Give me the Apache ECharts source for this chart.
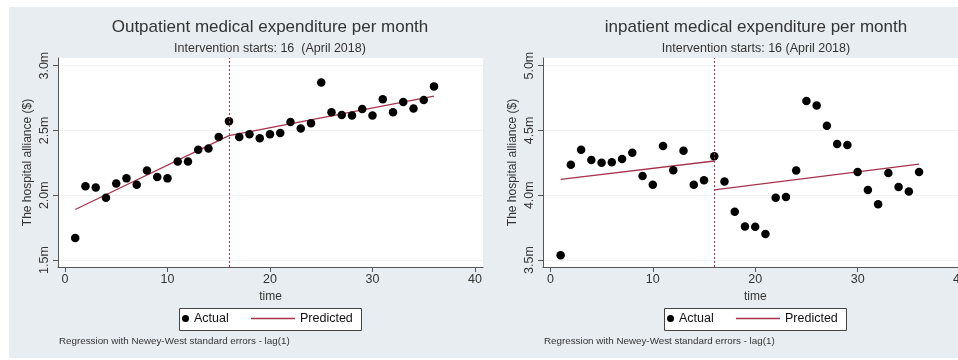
<!DOCTYPE html>
<html>
<head>
<meta charset="utf-8">
<script src="https://cdn.jsdelivr.net/npm/echarts@6/dist/echarts.min.js"></script>
<style>
html,body{margin:0;padding:0;background:#fff;overflow:hidden;width:958px;height:360px;}
#chart{width:970px;height:360px;}
</style>
</head>
<body>
<div id="chart"></div>
<script>
// ---- data (values in millions of $) ----
const time = [1,2,3,4,5,6,7,8,9,10,11,12,13,14,15,16,17,18,19,20,21,22,23,24,25,26,27,28,29,30,31,32,33,34,35,36];
const outpatientActual = [1.67,2.07,2.06,1.98,2.09,2.13,2.08,2.19,2.14,2.13,2.26,2.26,2.35,2.36,2.45,2.57,2.45,2.47,2.44,2.47,2.48,2.565,2.515,2.555,2.87,2.64,2.62,2.615,2.665,2.615,2.74,2.64,2.72,2.67,2.735,2.84];
const inpatientActual = [3.536,4.235,4.35,4.272,4.25,4.254,4.28,4.328,4.148,4.08,4.38,4.192,4.344,4.08,4.115,4.30,4.105,3.872,3.759,3.756,3.70,3.98,3.987,4.19,4.728,4.692,4.536,4.395,4.388,4.18,4.04,3.93,4.172,4.064,4.028,4.18];
const predPreTime = [1,16];
const predPostTime = [16,36];
const outPredPre = [1.89,2.46];
const outPredPost = [2.46,2.765];
const inPredPre = [4.123,4.264];
const inPredPost = [4.041,4.24];
const interventionTime = 16;
const xTicks = [0,10,20,30,40];
const outTicks = [1.5,2.0,2.5,3.0];
const inTicks = [3.5,4.0,4.5,5.0];
const titles = ['Outpatient medical expenditure per month','inpatient medical expenditure per month'];
const subtitles = ['Intervention starts: 16  (April 2018)','Intervention starts: 16 (April 2018)'];
const yTitle = 'The hospital alliance ($)';
const xTitle = 'time';
const note = 'Regression with Newey-West standard errors - lag(1)';

const FONT = '"Liberation Sans", Arial, sans-serif';
const TXT = '#333';
const LINE = '#A8324E';

function pairs(xs, ys){ return xs.map((x,i)=>[x, ys[i]]); }

function xAxisCfg(gi, min, max){
  return {
    type:'value', gridIndex:gi, min:min, max:max,
    name:xTitle, nameLocation:'middle', nameGap:19,
    nameTextStyle:{color:TXT, fontSize:12, fontFamily:FONT},
    axisLine:{show:true, onZero:false, lineStyle:{color:'#555', width:1}},
    axisTick:{show:true, inside:false, length:5, customValues:xTicks, lineStyle:{color:'#555'}},
    axisLabel:{customValues:xTicks, color:TXT, fontSize:12.5, fontFamily:FONT, margin:6},
    splitLine:{show:false}
  };
}
function yAxisCfg(gi, min, max, ticks){
  return {
    type:'value', gridIndex:gi, min:min, max:max,
    name:yTitle, nameLocation:'middle', nameGap:24, nameRotate:90,
    nameTextStyle:{color:TXT, fontSize:12, fontFamily:FONT},
    axisLine:{show:true, onZero:false, lineStyle:{color:'#555', width:1}},
    axisTick:{show:true, inside:false, length:5, customValues:ticks, lineStyle:{color:'#555'}},
    axisLabel:{customValues:ticks, rotate:90, color:TXT, fontSize:12.5, fontFamily:FONT, margin:7,
      formatter:v=>v.toFixed(1)+'m'},
    splitLine:{show:true, lineStyle:{color:'#EEF2F4', width:1}}
  };
}

const chart = echarts.init(document.getElementById('chart'), null, {renderer:'canvas'});
const gridLefts = [58, 543];
const titleCenters = [270, 756];
const legendLefts = [179, 664];

const titleArr = [];
for (let i=0;i<2;i++){
  titleArr.push({text:titles[i], left:titleCenters[i], top:19, textAlign:'center', padding:0,
    textStyle:{color:TXT, fontSize:17, fontWeight:'normal', fontFamily:FONT}});
  titleArr.push({text:subtitles[i], left:titleCenters[i], top:42, textAlign:'center', padding:0,
    textStyle:{color:TXT, fontSize:12.5, fontWeight:'normal', fontFamily:FONT}});
  titleArr.push({text:note, left:gridLefts[i]+1, top:336, padding:0,
    textStyle:{color:TXT, fontSize:9.8, fontWeight:'normal', fontFamily:FONT}});
}

const legendArr = [];
const graphicArr = [{type:'rect', z:-10, shape:{x:9,y:7,width:961,height:351}, style:{fill:'#E7EDF1'}}];
for (let i=0;i<2;i++){
  const L = legendLefts[i];
  graphicArr.push({type:'rect', z:3, shape:{x:L+0.5,y:308.5,width:182,height:22}, style:{fill:'#fff', stroke:'#444', lineWidth:1}});
  legendArr.push({data:['Actual'], left:L+3, top:312, padding:0, itemWidth:7, itemHeight:7, icon:'circle',
    itemStyle:{color:'#000', opacity:1},
    textStyle:{color:'#111', fontSize:12.5, fontFamily:FONT}});
  legendArr.push({data:['Predicted'], left:L+72, top:312, padding:0, itemWidth:44, itemHeight:1.5, icon:'rect',
    itemStyle:{color:LINE},
    textStyle:{color:'#111', fontSize:12.5, fontFamily:FONT}});
}

function panelSeries(gi, actual, pre, post){
  return [
    {name:'Actual', type:'scatter', xAxisIndex:gi, yAxisIndex:gi, data:pairs(time, actual),
      symbol:'circle', symbolSize:8.5, itemStyle:{color:'#000', opacity:1}, z:4,
      markLine:{silent:true, symbol:'none', label:{show:false},
        lineStyle:{color:'#B03040', type:[2,2], width:1, opacity:1},
        data:[{xAxis:interventionTime}]}},
    {name:'Predicted', type:'line', xAxisIndex:gi, yAxisIndex:gi, data:pairs(predPreTime, pre),
      symbol:'none', lineStyle:{color:LINE, width:1.3}, itemStyle:{color:LINE}, z:3},
    {name:'Predicted', type:'line', xAxisIndex:gi, yAxisIndex:gi, data:pairs(predPostTime, post),
      symbol:'none', lineStyle:{color:LINE, width:1.3}, itemStyle:{color:LINE}, z:3}
  ];
}

chart.setOption({
  backgroundColor:'#fff',
  animation:false,
  title:titleArr,
  legend:legendArr,
  graphic:graphicArr,
  grid:[
    {left:gridLefts[0], top:58, width:425, height:209, show:true, backgroundColor:'#fff', borderWidth:0, containLabel:false},
    {left:gridLefts[1], top:58, width:425, height:209, show:true, backgroundColor:'#fff', borderWidth:0, containLabel:false}
  ],
  xAxis:[xAxisCfg(0,-0.68,40.78), xAxisCfg(1,-0.72,40.74)],
  yAxis:[yAxisCfg(0,1.446,3.059,outTicks), yAxisCfg(1,3.446,5.059,inTicks)],
  series:[].concat(
    panelSeries(0, outpatientActual, outPredPre, outPredPost),
    panelSeries(1, inpatientActual, inPredPre, inPredPost)
  )
});
</script>
</body>
</html>
